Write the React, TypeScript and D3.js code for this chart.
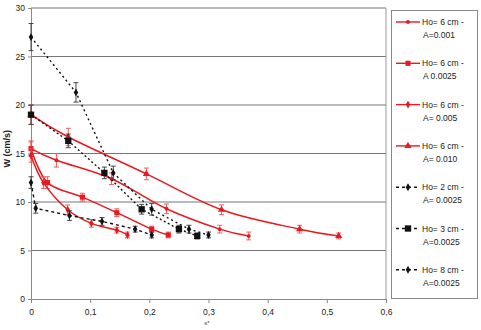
import React, { useEffect, useRef } from 'react';
import * as d3 from 'd3';

// s* values and W (cm/s) values
const xH6A001 = [0, 0.043, 0.136, 0.229, 0.319, 0.368];
const yH6A001 = [15.5, 14.3, 12.4, 9.3, 7.2, 6.5];
const eH6A001 = [0.8, 0.7, 0.6, 0.5, 0.4, 0.4];

const xH6A0025 = [0, 0.028, 0.087, 0.145, 0.204, 0.232];
const yH6A0025 = [15.5, 12.0, 10.5, 8.9, 7.2, 6.6];
const eH6A0025 = [0.7, 0.6, 0.4, 0.4, 0.3, 0.3];

const xH6A005 = [0, 0.021, 0.062, 0.102, 0.145, 0.163];
const yH6A005 = [14.8, 12.0, 9.2, 7.8, 7.1, 6.6];
const eH6A005 = [0.7, 0.6, 0.5, 0.4, 0.3, 0.3];

const xH6A010 = [0, 0.063, 0.195, 0.322, 0.454, 0.52];
const yH6A010 = [19.0, 16.7, 12.9, 9.2, 7.2, 6.5];
const eH6A010 = [1.0, 0.9, 0.6, 0.5, 0.4, 0.3];

const xH2 = [0, 0.008, 0.065, 0.12, 0.176, 0.204];
const yH2 = [12.0, 9.35, 8.6, 8.0, 7.2, 6.6];
const eH2 = [0.6, 0.5, 0.5, 0.4, 0.3, 0.3];

const xH3 = [0, 0.063, 0.124, 0.187, 0.25, 0.281];
const yH3 = [19.0, 16.3, 13.0, 9.25, 7.2, 6.5];
const eH3 = [1.0, 0.7, 0.6, 0.5, 0.4, 0.3];

const xH8 = [0, 0.076, 0.139, 0.204, 0.267, 0.3];
const yH8 = [27.0, 21.3, 13.0, 9.25, 7.2, 6.6];
const eH8 = [1.4, 1.0, 0.7, 0.6, 0.4, 0.3];

const labels1 = ['Ho= 6 cm -', 'Ho= 6 cm -', 'Ho= 6 cm -', 'Ho= 6 cm -', 'Ho= 2 cm -', 'Ho= 3 cm -', 'Ho= 8 cm -'];
const labels2 = ['A=0.001', 'A 0.0025', 'A= 0.005', 'A= 0.010', 'A= 0.0025', 'A=0.0025', 'A=0.0025'];

const xTicks = [0, 0.1, 0.2, 0.3, 0.4, 0.5, 0.6];
const yTicks = [0, 5, 10, 15, 20, 25, 30];

const RED = '#e8191f';

const series = [
  { xs: xH6A001, ys: yH6A001, es: eH6A001, color: RED, marker: 'dot', dash: null },
  { xs: xH6A0025, ys: yH6A0025, es: eH6A0025, color: RED, marker: 'square', dash: null },
  { xs: xH6A005, ys: yH6A005, es: eH6A005, color: RED, marker: 'diamond', dash: null },
  { xs: xH6A010, ys: yH6A010, es: eH6A010, color: RED, marker: 'triangle', dash: null },
  { xs: xH2, ys: yH2, es: eH2, color: '#111', marker: 'diamond', dash: '3,3' },
  { xs: xH3, ys: yH3, es: eH3, color: '#111', marker: 'bigsquare', dash: '2,2.5' },
  { xs: xH8, ys: yH8, es: eH8, color: '#111', marker: 'diamond', dash: '2,3' },
];

function markerPath(kind: string) {
  if (kind === 'square') return d3.symbol(d3.symbolSquare, 26)();
  if (kind === 'bigsquare') return d3.symbol(d3.symbolSquare, 40)();
  if (kind === 'triangle') return d3.symbol(d3.symbolTriangle, 22)();
  if (kind === 'diamond') return d3.symbol(d3.symbolDiamond, 18)();
  return d3.symbol(d3.symbolCircle, 12)();
}

const App = () => {
  const ref = useRef<SVGSVGElement>(null);
  const width = 481;
  const height = 330;

  useEffect(() => {
    const svg = d3.select(ref.current);
    svg.selectAll('*').remove();

    const x = d3.scaleLinear().domain([0, 0.6]).range([31, 386]);
    const y = d3.scaleLinear().domain([0, 30]).range([299, 8]);
    const fmt = (v: number) => (v === 0 ? '0' : d3.format('.1f')(v).replace('.', ','));

    // grid
    svg.append('g')
      .selectAll('line')
      .data(yTicks.slice(1))
      .enter()
      .append('line')
      .attr('x1', x(0)).attr('x2', x(0.6))
      .attr('y1', (d) => y(d)).attr('y2', (d) => y(d))
      .style('stroke', '#777').style('stroke-width', 1.2);

    svg.append('line')
      .attr('x1', x(0.6)).attr('x2', x(0.6)).attr('y1', y(30)).attr('y2', y(0))
      .style('stroke', '#999').style('stroke-width', 1);

    // axes
    const yAxis = svg.append('g').attr('transform', `translate(${x(0)},0)`)
      .call(d3.axisLeft(y).tickValues(yTicks).tickSize(3).tickFormat((d) => String(d)));
    const xAxis = svg.append('g').attr('transform', `translate(0,${y(0)})`)
      .call(d3.axisBottom(x).tickValues(xTicks).tickSize(4).tickFormat((d) => fmt(d as number)));
    [yAxis, xAxis].forEach((a) => {
      a.select('.domain').style('stroke', '#888');
      a.selectAll('.tick line').style('stroke', '#888');
      a.selectAll('text')
        .style('font-family', 'Liberation Sans, Arial, sans-serif')
        .style('font-size', '8.5px')
        .style('fill', '#222');
    });
    xAxis.selectAll('text').attr('dy', '1.1em');

    svg.append('text')
      .attr('transform', `translate(10,${y(15.5)}) rotate(-90)`)
      .attr('text-anchor', 'middle')
      .style('font-family', 'Liberation Sans, Arial, sans-serif')
      .style('font-size', '9px')
      .style('font-weight', 'bold')
      .style('fill', '#222')
      .text('W (cm/s)');

    svg.append('text')
      .attr('x', 207).attr('y', 325)
      .attr('text-anchor', 'middle')
      .style('font-family', 'Liberation Sans, Arial, sans-serif')
      .style('font-size', '6px')
      .style('fill', '#444')
      .text('s*');

    const line = d3.line<[number, number]>()
      .x((d) => x(d[0]))
      .y((d) => y(d[1]));

    series.forEach((s) => {
      const pts: [number, number][] = s.xs.map((v, i) => [v, s.ys[i]]);
      const g = svg.append('g');
      g.append('path')
        .attr('d', line.curve(s.dash ? d3.curveLinear : d3.curveCatmullRom.alpha(0))(pts))
        .style('fill', 'none')
        .style('stroke', s.color)
        .style('stroke-width', s.dash ? 1.4 : 1.5)
        .style('stroke-dasharray', s.dash ?? null);

      const ebColor = s.dash ? '#333' : '#f05050';
      pts.forEach((p, i) => {
        const cx = x(p[0]);
        const top = y(p[1] + s.es[i]);
        const bot = y(p[1] - s.es[i]);
        g.append('line').attr('x1', cx).attr('x2', cx).attr('y1', top).attr('y2', bot)
          .style('stroke', ebColor).style('stroke-width', 0.9);
        [top, bot].forEach((yy) => {
          g.append('line').attr('x1', cx - 2.5).attr('x2', cx + 2.5).attr('y1', yy).attr('y2', yy)
            .style('stroke', ebColor).style('stroke-width', 0.9);
        });
      });

      g.selectAll('path.mk')
        .data(pts)
        .enter()
        .append('path')
        .attr('class', 'mk')
        .attr('d', markerPath(s.marker))
        .attr('transform', (d) => `translate(${x(d[0])},${y(d[1])})`)
        .style('fill', s.color);
    });

    // legend
    const lg = svg.append('g');
    lg.append('rect')
      .attr('x', 391.5).attr('y', 10.5).attr('width', 86).attr('height', 288)
      .style('fill', 'white').style('stroke', '#888').style('stroke-width', 1);

    series.forEach((s, i) => {
      const ty = 25 + i * 41.3;
      lg.append('line')
        .attr('x1', 396).attr('x2', 420).attr('y1', ty - 3).attr('y2', ty - 3)
        .style('stroke', s.color).style('stroke-width', 1.4)
        .style('stroke-dasharray', s.dash ? '3,3' : null);
      lg.append('path')
        .attr('d', markerPath(s.marker))
        .attr('transform', `translate(408,${ty - 3})`)
        .style('fill', s.color);
      lg.append('text')
        .attr('x', 422).attr('y', ty)
        .style('font-family', 'Liberation Sans, Arial, sans-serif')
        .style('font-size', '8.5px')
        .style('fill', '#222')
        .text(labels1[i]);
      lg.append('text')
        .attr('x', 423).attr('y', ty + 13)
        .style('font-family', 'Liberation Sans, Arial, sans-serif')
        .style('font-size', '8.5px')
        .style('fill', '#222')
        .text(labels2[i]);
    });
  }, []);

  return (
    <svg
      ref={ref}
      width={width}
      height={height}
      style={{ position: 'absolute', left: 0, top: 0, background: 'white' }}
    />
  );
};

export default App;
